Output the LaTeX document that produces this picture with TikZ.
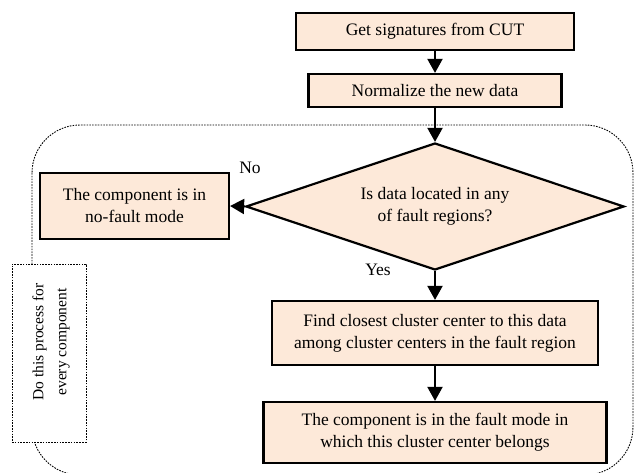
\documentclass[tikz,border=0pt]{standalone}
\usepackage{fontspec}
\setmainfont{Liberation Serif}
\usetikzlibrary{arrows.meta,shapes.geometric}
\definecolor{peach}{RGB}{253,233,217}
\begin{document}
\begin{tikzpicture}[x=1pt,y=-1pt,
  stepbox/.style={draw,line width=2.2pt,fill=peach,inner sep=0pt,align=center,
    font=\fontsize{17.5}{22}\selectfont},
  decision/.style={diamond,draw,line width=2.2pt,fill=peach,inner sep=0pt,align=center,
    aspect=3,font=\fontsize{17.5}{22}\selectfont},
  flow/.style={line width=2pt,-{Triangle[length=14pt,width=15pt]}},
  lbl/.style={font=\fontsize{17.5}{21}\selectfont,inner sep=0pt},
  dotline/.style={line width=0.9pt,dash pattern=on 1.6pt off 1.2pt}]
\useasboundingbox (0,0) rectangle (634,473);

% loop frame around the per-component steps
\draw[dotline,rounded corners=48pt] (32,125) rectangle (633,475);

% main steps
\node[stepbox,minimum width=278,minimum height=37] (get) at (435,31.5) {Get signatures from CUT};
\node[stepbox,minimum width=253,minimum height=33] (norm) at (435,90.5) {Normalize the new data};
\node[decision,minimum width=378,minimum height=127] (test) at (435,206.5)
  {Is data located in any\\of fault regions?};
\node[stepbox,minimum width=189,minimum height=66] (nofault) at (134.5,206)
  {The component is in\\no-fault mode};
\node[stepbox,minimum width=326,minimum height=64] (closest) at (435,333)
  {Find closest cluster center to this data\\among cluster centers in the fault region};
\node[stepbox,minimum width=343,minimum height=61] (fault) at (435,432.5)
  {The component is in the fault mode in\\which this cluster center belongs};

% branch labels
\node[lbl] (no) at (250,168) {No};
\node[lbl] (yes) at (378,270) {Yes};

% loop note
\node[draw,dotline,fill=white,minimum width=74,minimum height=178,inner sep=0pt] (notebox) at (49,353) {};
\node[rotate=90,align=center,inner sep=0pt,font=\fontsize{15.5}{23}\selectfont] (note) at (51,342)
  {Do this process for\\every component};

% connectors
\draw[flow] (get) -- (norm);
\draw[flow] (norm) -- (test);
\draw[flow] (test.west) -- (nofault.east);
\draw[flow] (test.south) -- (closest.north);
\draw[flow] (closest) -- (fault);
\end{tikzpicture}
\end{document}
